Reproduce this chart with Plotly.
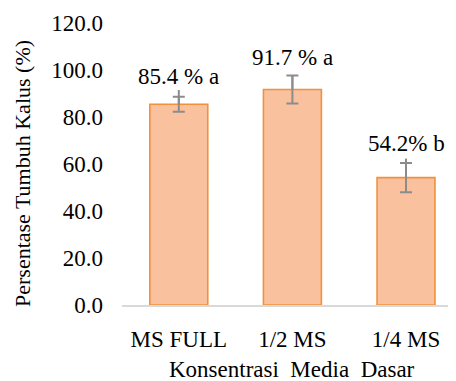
import plotly.graph_objects as go

categories = ["MS FULL", "1/2 MS", "1/4 MS"]
values = [85.4, 91.7, 54.2]
err_cap = [3.2, 6.0, 6.2]        # capped error bars
err_upper_line = [6.1, 6.0, 8.1]  # upper whisker line (no cap)
labels = ["85.4 % a", "91.7 % a", "54.2% b"]
y_ticks = [0, 20, 40, 60, 80, 100, 120]
y_tick_text = ["0.0", "20.0", "40.0", "60.0", "80.0", "100.0", "120.0"]

FONT = "Times New Roman, Liberation Serif, Tinos, serif"
ERR_COLOR = "#8C8C8C"

fig = go.Figure()
fig.add_trace(go.Bar(
    x=categories, y=values, width=0.51,
    marker=dict(color="#FAC19E", line=dict(color="#F2913D", width=1.6)),
    error_y=dict(type="data", array=err_cap, visible=True,
                 color=ERR_COLOR, thickness=2, width=6),
    showlegend=False, hoverinfo="skip",
))
fig.add_trace(go.Scatter(
    x=categories, y=values, mode="markers",
    marker=dict(size=1, opacity=0),
    error_y=dict(type="data", symmetric=False, array=err_upper_line,
                 arrayminus=[0, 0, 0], visible=True,
                 color=ERR_COLOR, thickness=2, width=0),
    showlegend=False, hoverinfo="skip",
))

shifts = [13, 18, 15]
for c, v, e, t, s in zip(categories, values, err_upper_line, labels, shifts):
    fig.add_annotation(x=c, y=v + e, text=t, showarrow=False,
                       yanchor="middle", yshift=s,
                       font=dict(family=FONT, size=23, color="#000000"))

# page offset (browser body margin)
OFF = 8
W, H = 456 - OFF, 381 - OFF
ML, MR, MT = 122 - OFF, 0, 23 - OFF
MB = H - MT - 282
pw, ph = W - ML - MR, H - MT - MB

def px2paper(x, y):
    return (x - OFF - ML) / pw, 1 - (y - OFF - MT) / ph

ax, ay = px2paper(22, 174)
fig.add_annotation(x=ax, y=ay, xref="paper", yref="paper", text="Persentase Tumbuh Kalus (%)",
                   textangle=-90, showarrow=False, xanchor="center", yanchor="middle",
                   font=dict(family=FONT, size=22, color="#000000"))
bx, by = px2paper(292, 369)
fig.add_annotation(x=bx, y=by, xref="paper", yref="paper", text="Konsentrasi  Media  Dasar",
                   showarrow=False, xanchor="center", yanchor="middle",
                   font=dict(family=FONT, size=23, color="#000000"))

fig.update_layout(
    width=W, height=H,
    margin=dict(l=ML, r=MR, t=MT, b=MB, autoexpand=False),
    plot_bgcolor="white", paper_bgcolor="white",
    font=dict(family=FONT, size=23, color="#000000"),
    bargap=0.49,
)
fig.update_xaxes(range=[-0.5, 2.44], showgrid=False, showline=True,
                 linecolor="#D9D9D9", linewidth=1.5, ticks="",
                 ticklabelstandoff=13, tickfont=dict(family=FONT, size=23))
fig.update_yaxes(range=[0, 120], tickvals=y_ticks, ticktext=y_tick_text,
                 showgrid=False, showline=False, zeroline=False, ticks="",
                 ticklabelstandoff=18, tickfont=dict(family=FONT, size=23))

fig.write_html("out.html")
